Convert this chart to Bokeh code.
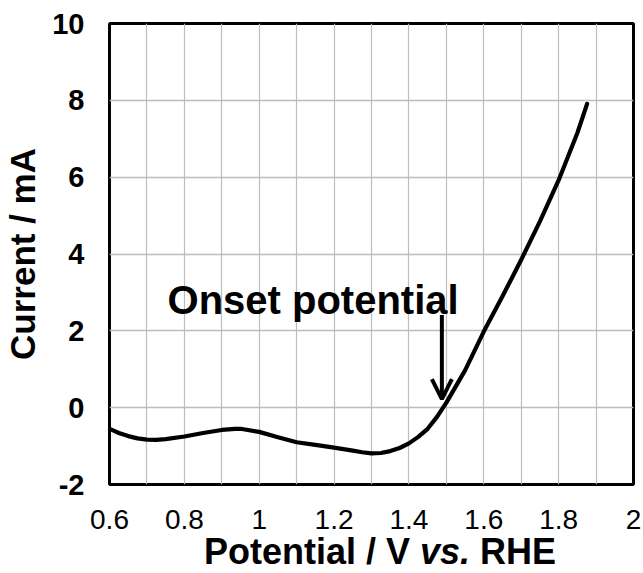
from bokeh.plotting import figure
from bokeh.models import Range1d, FixedTicker, Label, Arrow, OpenHead, Div
from bokeh.layouts import column
from bokeh.embed import file_html
from bokeh.resources import INLINE

# ---- data ----
potential = [0.60, 0.625, 0.65, 0.675, 0.70, 0.725, 0.75, 0.80, 0.85, 0.90, 0.935,
             0.95, 1.00, 1.05, 1.10, 1.15, 1.20, 1.25, 1.275, 1.30, 1.325, 1.35,
             1.375, 1.40, 1.425, 1.45, 1.475, 1.50, 1.55, 1.60, 1.65, 1.70, 1.75,
             1.80, 1.85, 1.876]
current = [-0.55, -0.66, -0.74, -0.80, -0.83, -0.84, -0.82, -0.75, -0.66, -0.58, -0.55,
           -0.55, -0.63, -0.77, -0.90, -0.97, -1.04, -1.12, -1.16, -1.19, -1.18, -1.13,
           -1.05, -0.93, -0.76, -0.55, -0.24, 0.13, 0.97, 1.98, 2.90, 3.85, 4.85,
           5.92, 7.15, 7.91]

x_ticks = [0.6, 0.8, 1.0, 1.2, 1.4, 1.6, 1.8, 2.0]
x_tick_labels = ["0.6", "0.8", "1", "1.2", "1.4", "1.6", "1.8", "2"]
x_grid = [0.6, 0.7, 0.8, 0.9, 1.0, 1.1, 1.2, 1.3, 1.4, 1.5, 1.6, 1.7, 1.8, 1.9, 2.0]
y_ticks = [-2, 0, 2, 4, 6, 8, 10]
y_tick_labels = ["-2", "0", "2", "4", "6", "8", "10"]

onset_text = "Onset potential"
onset_x = 1.488
arrow_top = 2.41
arrow_tip = 0.22

y_title = "Current / mA"
x_title_html = "Potential / V <i>vs.</i> RHE"

FONT = "Liberation Sans"

p = figure(width=643, height=545, output_backend="svg", toolbar_location=None,
           x_range=Range1d(0.6, 2.0), y_range=Range1d(-2, 10),
           min_border_left=109, min_border_right=10, min_border_top=23,
           min_border_bottom=61)
p.background_fill_color = "white"
p.border_fill_color = "white"
p.outline_line_color = "black"
p.outline_line_width = 3

# axes
p.xaxis.ticker = FixedTicker(ticks=x_ticks)
p.xaxis.major_label_overrides = {t: l for t, l in zip(x_ticks, x_tick_labels)}
p.yaxis.ticker = FixedTicker(ticks=y_ticks)
p.yaxis.major_label_overrides = {t: l for t, l in zip(y_ticks, y_tick_labels)}
for ax in (p.xaxis, p.yaxis):
    ax.axis_line_color = None
    ax.major_tick_line_color = None
    ax.minor_tick_line_color = None
    ax.major_tick_out = 0
    ax.major_tick_in = 0
    ax.major_label_text_font = FONT
    ax.major_label_text_color = "black"
p.xaxis.major_label_text_font_size = "28px"
p.xaxis.major_label_text_font_style = "normal"
p.xaxis.major_label_standoff = 25
p.yaxis.major_label_text_font_size = "29px"
p.yaxis.major_label_text_font_style = "bold"
p.yaxis.major_label_standoff = 25
p.yaxis.axis_label = y_title
p.yaxis.axis_label_text_font = FONT
p.yaxis.axis_label_text_font_size = "35px"
p.yaxis.axis_label_text_font_style = "bold"
p.yaxis.axis_label_text_color = "black"
p.yaxis.axis_label_standoff = 7

# grid
p.xgrid.ticker = FixedTicker(ticks=x_grid)
p.ygrid.ticker = FixedTicker(ticks=y_ticks)
p.xgrid.grid_line_color = "#bdbdbd"
p.ygrid.grid_line_color = "#bdbdbd"
p.xgrid.grid_line_width = 1.2
p.ygrid.grid_line_width = 1.5

# curve
p.line(potential, current, line_color="black", line_width=4.2, line_join="round",
       line_cap="round")

# arrow + annotation
p.add_layout(Arrow(end=OpenHead(size=20, line_width=4, line_color="black"),
                   x_start=onset_x, y_start=arrow_top, x_end=onset_x, y_end=arrow_tip,
                   line_width=4, line_color="black"))
p.add_layout(Label(x=0.755, y=2.79, text=onset_text, text_font=FONT,
                   text_font_size="40px", text_font_style="bold",
                   text_color="black", text_baseline="alphabetic"))

# x-axis title as HTML so that "vs." can be italic
title = Div(text=('<span style="position:relative; top:-11px; display:inline-block; '
                  'padding-left:204px; white-space:nowrap; font-family:\'Liberation Sans\'; '
                  'font-weight:bold; font-size:36px; line-height:36px; color:black;">'
                  + x_title_html + '</span>'),
            width=643, height=28, margin=0, styles={"overflow": "visible"})

layout = column(p, title, spacing=0)
open("out.html", "w").write(file_html(layout, INLINE))
